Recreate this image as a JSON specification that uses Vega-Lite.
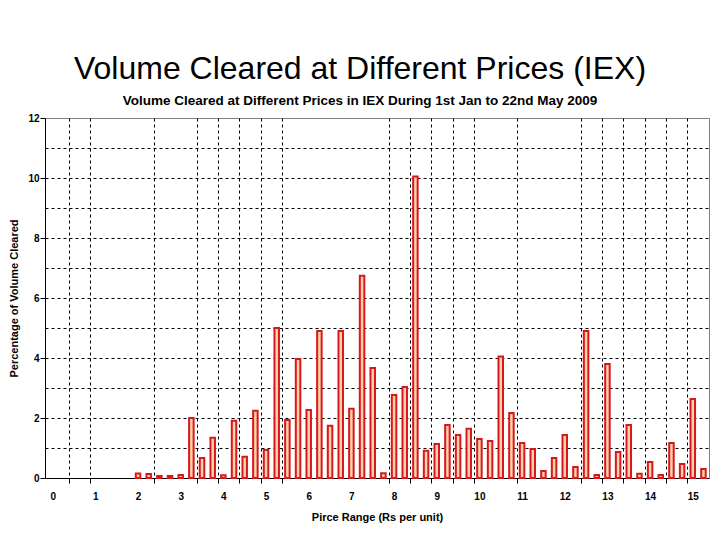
{
  "$schema": "https://vega.github.io/schema/vega-lite/v6.json",
  "width": 664,
  "height": 360,
  "autosize": {"type": "none"},
  "padding": {"left": 45, "top": 118, "right": 11, "bottom": 62},
  "background": "white",
  "title": {
    "text": "Volume Cleared at Different Prices (IEX)",
    "subtitle": "Volume Cleared at Different Prices in IEX During 1st Jan to 22nd May 2009",
    "font": "Liberation Sans",
    "fontSize": 32,
    "fontWeight": "normal",
    "color": "black",
    "subtitleFont": "Liberation Sans",
    "subtitleFontSize": 13.5,
    "subtitleFontWeight": "bold",
    "subtitleColor": "black",
    "subtitlePadding": 8,
    "anchor": "middle",
    "dx": -17,
    "offset": 5
  },
  "config": {"view": {"stroke": "#808080", "strokeWidth": 1}},
  "data": {
    "values": [
      {"price": 2.0, "pct": 0.15},
      {"price": 2.25, "pct": 0.13},
      {"price": 2.5, "pct": 0.07},
      {"price": 2.75, "pct": 0.07},
      {"price": 3.0, "pct": 0.1},
      {"price": 3.25, "pct": 2.0},
      {"price": 3.5, "pct": 0.67},
      {"price": 3.75, "pct": 1.34},
      {"price": 4.0, "pct": 0.09},
      {"price": 4.25, "pct": 1.91},
      {"price": 4.5, "pct": 0.71},
      {"price": 4.75, "pct": 2.24},
      {"price": 5.0, "pct": 0.93},
      {"price": 5.25, "pct": 5.0},
      {"price": 5.5, "pct": 1.93},
      {"price": 5.75, "pct": 3.97},
      {"price": 6.0, "pct": 2.27},
      {"price": 6.25, "pct": 4.9},
      {"price": 6.5, "pct": 1.74},
      {"price": 6.75, "pct": 4.9},
      {"price": 7.0, "pct": 2.31},
      {"price": 7.25, "pct": 6.74},
      {"price": 7.5, "pct": 3.67},
      {"price": 7.75, "pct": 0.16},
      {"price": 8.0, "pct": 2.77},
      {"price": 8.25, "pct": 3.03},
      {"price": 8.5, "pct": 10.05},
      {"price": 8.75, "pct": 0.91},
      {"price": 9.0, "pct": 1.13},
      {"price": 9.25, "pct": 1.77},
      {"price": 9.5, "pct": 1.43},
      {"price": 9.75, "pct": 1.64},
      {"price": 10.0, "pct": 1.3},
      {"price": 10.25, "pct": 1.23},
      {"price": 10.5, "pct": 4.05},
      {"price": 10.75, "pct": 2.17},
      {"price": 11.0, "pct": 1.17},
      {"price": 11.25, "pct": 0.97},
      {"price": 11.5, "pct": 0.23},
      {"price": 11.75, "pct": 0.67},
      {"price": 12.0, "pct": 1.43},
      {"price": 12.25, "pct": 0.37},
      {"price": 12.5, "pct": 4.9},
      {"price": 12.75, "pct": 0.1},
      {"price": 13.0, "pct": 3.8},
      {"price": 13.25, "pct": 0.87},
      {"price": 13.5, "pct": 1.77},
      {"price": 13.75, "pct": 0.14},
      {"price": 14.0, "pct": 0.53},
      {"price": 14.25, "pct": 0.1},
      {"price": 14.5, "pct": 1.17},
      {"price": 14.75, "pct": 0.47},
      {"price": 15.0, "pct": 2.63},
      {"price": 15.25, "pct": 0.3}
    ]
  },
  "mark": {"type": "bar", "size": 4.5, "fill": "#fcd3aa", "stroke": "#d9181e", "strokeWidth": 2},
  "encoding": {
    "x": {
      "field": "price",
      "type": "quantitative",
      "scale": {"domain": [-0.18, 15.38], "nice": false, "zero": false, "padding": 0},
      "axis": {
        "title": "Pirce Range (Rs per unit)",
        "titleFont": "Liberation Sans",
        "titleFontSize": 11,
        "titleFontWeight": "bold",
        "titleColor": "black",
        "titlePadding": 10,
        "values": [0, 1, 2, 3, 4, 5, 6, 7, 8, 9, 10, 11, 12, 13, 14, 15, 0.375, 0.875, 2.375, 3.375, 3.875, 4.375, 4.875, 5.375, 7.875, 8.375, 8.875, 9.375, 9.875, 10.875, 12.375, 12.875, 13.375, 13.875, 14.375, 14.875],
        "labelExpr": "datum.value % 1 == 0 ? format(datum.value, 'd') : ''",
        "labelOverlap": false,
        "labelFont": "Liberation Sans",
        "labelFontSize": 10,
        "labelFontWeight": "bold",
        "labelColor": "black",
        "labelPadding": 8,
        "domainColor": "black",
        "tickColor": "black",
        "tickSize": 5,
        "tickOpacity": {"condition": {"test": "datum.value % 1 == 0", "value": 0}, "value": 1},
        "grid": true,
        "gridColor": "black",
        "gridDash": [3, 3],
        "gridWidth": 1,
        "gridOpacity": {"condition": {"test": "datum.value % 1 == 0", "value": 0}, "value": 1}
      }
    },
    "y": {
      "field": "pct",
      "type": "quantitative",
      "scale": {"domain": [0, 12], "nice": false},
      "axis": {
        "title": "Percentage of Volume Cleared",
        "titleFont": "Liberation Sans",
        "titleFontSize": 11,
        "titleFontWeight": "bold",
        "titleColor": "black",
        "titlePadding": 8,
        "values": [0, 1, 2, 3, 4, 5, 6, 7, 8, 9, 10, 11, 12],
        "labelExpr": "datum.value % 2 == 0 ? format(datum.value, 'd') : ''",
        "labelFont": "Liberation Sans",
        "labelFontSize": 10,
        "labelFontWeight": "bold",
        "labelColor": "black",
        "labelPadding": 1,
        "domainColor": "black",
        "tickColor": "black",
        "tickSize": 5,
        "tickOpacity": {"condition": {"test": "datum.value % 2 == 1", "value": 0}, "value": 1},
        "grid": true,
        "gridColor": "black",
        "gridDash": [3, 3],
        "gridWidth": 1,
        "gridOpacity": {"condition": {"test": "datum.value == 0 || datum.value == 12", "value": 0}, "value": 1}
      }
    }
  }
}
